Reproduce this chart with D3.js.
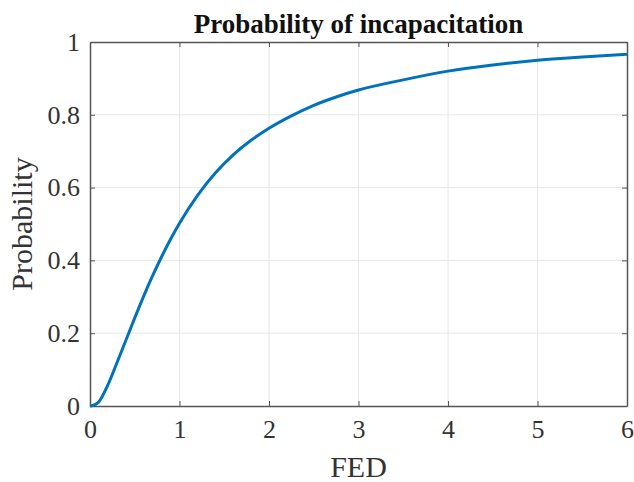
<!DOCTYPE html>
<html><head><meta charset="utf-8">
<script src="https://cdn.jsdelivr.net/npm/d3@7"></script>
<style>body{margin:0;background:#fff}svg{display:block}</style>
</head><body>
<svg id="c" width="634" height="482"></svg>
<script>
const fed = [0, 0.05, 0.1, 0.2, 0.3, 0.4, 0.5, 0.6, 0.7, 0.8, 0.9, 1.0, 1.2, 1.4, 1.6, 1.8, 2.0, 2.25, 2.5, 2.75, 3.0, 3.5, 4.0, 4.5, 5.0, 5.5, 6.0];
const prob = [0, 0.003, 0.012, 0.058, 0.118, 0.180, 0.242, 0.302, 0.358, 0.410, 0.458, 0.502, 0.578, 0.640, 0.690, 0.730, 0.763, 0.797, 0.826, 0.849, 0.868, 0.896, 0.920, 0.937, 0.950, 0.959, 0.966];
const xTicks = [0, 1, 2, 3, 4, 5, 6];
const yTicks = [0, 0.2, 0.4, 0.6, 0.8, 1];
const title = "Probability of incapacitation";
const xLabel = "FED";
const yLabel = "Probability";

const L = 90, R = 627, T = 42, B = 406;
const svg = d3.select("#c");
const x = d3.scaleLinear().domain([0, 6]).range([L, R]);
const y = d3.scaleLinear().domain([0, 1]).range([B, T]);
const font = "'Liberation Serif','Times New Roman',serif";
const axisCol = "#555";

// grid
const g = svg.append("g");
g.selectAll(".gx").data(xTicks.slice(1, -1)).enter().append("line")
  .attr("x1", d => x(d)).attr("x2", d => x(d)).attr("y1", T).attr("y2", B)
  .attr("stroke", "#e6e6e6").attr("stroke-width", 1);
g.selectAll(".gy").data(yTicks.slice(1, -1)).enter().append("line")
  .attr("y1", d => y(d)).attr("y2", d => y(d)).attr("x1", L).attr("x2", R)
  .attr("stroke", "#e6e6e6").attr("stroke-width", 1);

// axes
const xa = svg.append("g").attr("transform", `translate(0,${B})`)
  .call(d3.axisBottom(x).tickValues(xTicks).tickFormat(d3.format("d")).tickSizeInner(-5).tickSizeOuter(0).tickPadding(14));
const xt = svg.append("g").attr("transform", `translate(0,${T})`)
  .call(d3.axisTop(x).tickValues(xTicks).tickFormat("").tickSizeInner(-5).tickSizeOuter(0));
const ya = svg.append("g").attr("transform", `translate(${L},0)`)
  .call(d3.axisLeft(y).tickValues(yTicks).tickFormat(d => d === 0 || d === 1 ? d3.format("d")(d) : d3.format(".1f")(d)).tickSizeInner(-5).tickSizeOuter(0).tickPadding(10));
const yr = svg.append("g").attr("transform", `translate(${R},0)`)
  .call(d3.axisRight(y).tickValues(yTicks).tickFormat("").tickSizeInner(-5).tickSizeOuter(0));
[xa, xt, ya, yr].forEach(a => {
  a.select(".domain").attr("stroke", axisCol).attr("stroke-width", 1.5);
  a.selectAll(".tick line").attr("stroke", axisCol).attr("stroke-width", 1);
  a.selectAll("text").attr("font-family", font).attr("font-size", 26).attr("fill", "#333");
});

// curve
svg.append("path").datum(fed.map((d, i) => [d, prob[i]]))
  .attr("fill", "none").attr("stroke", "#0072BD").attr("stroke-width", 3)
  .attr("d", d3.line().x(d => x(d[0])).y(d => y(d[1])).curve(d3.curveMonotoneX));

// labels
svg.append("text").attr("x", (L + R) / 2).attr("y", 33).attr("text-anchor", "middle")
  .attr("font-family", font).attr("font-weight", "bold").attr("font-size", 27).attr("fill", "#111").text(title);
svg.append("text").attr("x", (L + R) / 2).attr("y", 477).attr("text-anchor", "middle")
  .attr("font-family", font).attr("font-size", 30).attr("fill", "#333").text(xLabel);
svg.append("text").attr("transform", `translate(32,${(T + B) / 2}) rotate(-90)`).attr("text-anchor", "middle")
  .attr("font-family", font).attr("font-size", 30).attr("fill", "#333").text(yLabel);
</script>
</body></html>
